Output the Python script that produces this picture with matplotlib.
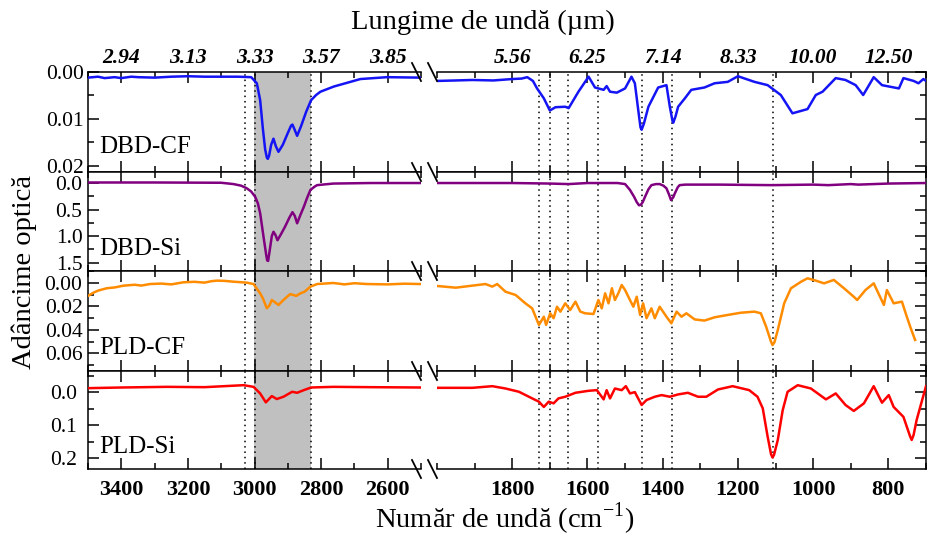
###############################################################################
### IR optical depth spectra on a broken wavenumber axis
###############################################################################

#------------------------------------------------------------------------------
### Import packages
import matplotlib.pyplot as plt
from matplotlib.lines import Line2D
from matplotlib.ticker import MultipleLocator, FormatStrFormatter


#------------------------------------------------------------------------------
### Data (wavenumber in cm-1, optical depth)

# DBD-CF
dbd_cf_wn_l = [3500, 3470, 3450, 3420, 3400, 3370, 3350, 3300, 3250, 3200, 3150, 3100, 3050, 3010,
               2993, 2983, 2975, 2968, 2963, 2960, 2956, 2950, 2943, 2936, 2928, 2915, 2900, 2890,
               2886, 2880, 2872, 2860, 2845, 2830, 2815, 2802, 2762, 2712, 2682, 2602, 2501]
dbd_cf_l = [0.0012, 0.0010, 0.0013, 0.0011, 0.0013, 0.0010, 0.0011, 0.0012, 0.0010, 0.0009, 0.0010,
            0.0010, 0.0010, 0.0011, 0.0024, 0.0060, 0.0120, 0.0165, 0.0182, 0.0185, 0.0178, 0.0155,
            0.0142, 0.0158, 0.0170, 0.0155, 0.0130, 0.0114, 0.0112, 0.0122, 0.0136, 0.0115, 0.0085,
            0.0060, 0.0049, 0.0042, 0.0031, 0.0021, 0.0015, 0.0011, 0.0012]
dbd_cf_wn_r = [1998, 1950, 1906, 1850, 1800, 1775, 1760, 1745, 1734, 1716, 1700, 1685, 1659, 1650,
               1624, 1597, 1580, 1557, 1549, 1540, 1522, 1500, 1483, 1474, 1465, 1459, 1456, 1450,
               1438, 1412, 1390, 1381, 1374, 1372, 1366, 1359, 1341, 1324, 1289, 1262, 1227, 1200,
               1156, 1121, 1086, 1055, 1015, 993, 975, 940, 914, 887, 867, 839, 817, 772, 760, 733,
               720, 707, 700]
dbd_cf_r = [0.0019, 0.0018, 0.0017, 0.0018, 0.0015, 0.0014, 0.0011, 0.0019, 0.0035, 0.0056, 0.0082,
            0.0075, 0.0074, 0.0077, 0.0042, 0.0010, 0.0033, 0.0038, 0.0030, 0.0042, 0.0044, 0.0035,
            0.0010, 0.0024, 0.0081, 0.0118, 0.0123, 0.0110, 0.0074, 0.0033, 0.0028, 0.0074, 0.0104,
            0.0108, 0.0095, 0.0074, 0.0056, 0.0038, 0.0033, 0.0024, 0.0021, 0.0009, 0.0021, 0.0028,
            0.0049, 0.0088, 0.0079, 0.0049, 0.0042, 0.0013, 0.0017, 0.0028, 0.0049, 0.0011, 0.0028,
            0.0035, 0.0013, 0.0019, 0.0024, 0.0015, 0.0019]

# DBD-Si
dbd_si_wn_l = [3500, 3300, 3100, 3063, 3040, 3023, 3010, 2998, 2990, 2983, 2973, 2965, 2962, 2959,
               2955, 2948, 2943, 2937, 2931, 2920, 2908, 2895, 2886, 2879, 2872, 2862, 2852, 2842,
               2832, 2820, 2812, 2763, 2650, 2501]
dbd_si_l = [-0.01, -0.01, -0.005, 0.02, 0.05, 0.10, 0.16, 0.26, 0.38, 0.57, 1.01, 1.35, 1.46, 1.47,
            1.30, 1.00, 0.92, 0.98, 1.08, 0.96, 0.82, 0.65, 0.55, 0.62, 0.76, 0.60, 0.45, 0.28,
            0.13, 0.07, 0.04, 0.01, 0.00, 0.00]
dbd_si_wn_r = [1998, 1800, 1700, 1650, 1600, 1520, 1500, 1487, 1476, 1469, 1463, 1458, 1453, 1447,
               1438, 1430, 1418, 1408, 1398, 1390, 1383, 1378, 1372, 1368, 1360, 1355, 1340, 1250,
               1110, 1000, 960, 900, 880, 800, 700]
dbd_si_r = [0.00, 0.00, 0.01, 0.02, 0.00, 0.00, 0.02, 0.13, 0.26, 0.36, 0.42, 0.41, 0.36, 0.26,
            0.12, 0.04, 0.02, 0.02, 0.05, 0.10, 0.22, 0.32, 0.27, 0.20, 0.08, 0.04, 0.03, 0.03,
            0.04, 0.03, 0.04, 0.02, 0.03, 0.01, 0.00]

# PLD-CF
pld_cf_wn_l = [3500, 3484, 3470, 3444, 3420, 3394, 3360, 3340, 3314, 3280, 3250, 3213, 3180, 3150,
               3130, 3113, 3090, 3063, 3023, 3003, 2983, 2975, 2963, 2955, 2948, 2938, 2928, 2915,
               2902, 2893, 2883, 2875, 2862, 2850, 2832, 2812, 2790, 2763, 2730, 2700, 2662, 2600,
               2550, 2501]
pld_cf_l = [0.0110, 0.0083, 0.0065, 0.0045, 0.0038, 0.0023, 0.0015, 0.0022, 0.0009, 0.0005, 0.0012,
            -0.0006, -0.0010, -0.0003, -0.0015, -0.0020, -0.0018, -0.0011, -0.0003, 0.0009, 0.0088,
            0.0130, 0.0215, 0.0190, 0.0145, 0.0165, 0.0187, 0.0150, 0.0117, 0.0095, 0.0102, 0.0110,
            0.0088, 0.0075, 0.0031, 0.0009, 0.0005, 0.0000, 0.0012, 0.0002, 0.0009, 0.0012, 0.0006,
            0.0009]
pld_cf_wn_r = [1998, 1950, 1915, 1871, 1853, 1840, 1818, 1791, 1765, 1747, 1729, 1716, 1710, 1699,
               1690, 1681, 1672, 1659, 1646, 1632, 1619, 1606, 1584, 1571, 1562, 1553, 1544, 1535,
               1527, 1518, 1509, 1500, 1487, 1478, 1469, 1460, 1452, 1443, 1430, 1421, 1408, 1390,
               1377, 1363, 1350, 1337, 1315, 1289, 1262, 1227, 1192, 1156, 1139, 1125, 1112, 1108,
               1103, 1094, 1077, 1059, 1032, 1015, 993, 971, 945, 918, 892, 883, 861, 839, 812, 804,
               786, 764, 751, 742, 729]
pld_cf_r = [0.0026, 0.0040, 0.0026, 0.0009, 0.0031, 0.0009, 0.0074, 0.0102, 0.0173, 0.0216, 0.0357,
            0.0287, 0.0357, 0.0258, 0.0300, 0.0202, 0.0244, 0.0173, 0.0230, 0.0159, 0.0244, 0.0258,
            0.0264, 0.0145, 0.0216, 0.0088, 0.0173, 0.0045, 0.0145, 0.0088, 0.0017, 0.0060, 0.0145,
            0.0202, 0.0117, 0.0272, 0.0173, 0.0300, 0.0216, 0.0300, 0.0202, 0.0287, 0.0343, 0.0244,
            0.0287, 0.0258, 0.0310, 0.0320, 0.0292, 0.0272, 0.0253, 0.0244, 0.0258, 0.0372, 0.0500,
            0.0528, 0.0505, 0.0400, 0.0173, 0.0045, -0.0011, -0.0040, -0.0020, 0.0003, -0.0026,
            0.0045, 0.0117, 0.0145, 0.0060, 0.0003, 0.0187, 0.0060, 0.0173, 0.0159, 0.0287, 0.0372,
            0.0485]

# PLD-Si
pld_si_wn_l = [3500, 3400, 3263, 3150, 3033, 3003, 2983, 2966, 2948, 2933, 2913, 2887, 2872, 2852,
               2830, 2763, 2650, 2501]
pld_si_l = [-0.012, -0.014, -0.016, -0.015, -0.021, -0.016, 0.004, 0.031, 0.012, 0.021, 0.014,
            -0.001, 0.002, -0.006, -0.014, -0.016, -0.015, -0.014]
pld_si_wn_r = [1998, 1906, 1853, 1818, 1782, 1747, 1729, 1716, 1703, 1690, 1677, 1659, 1632, 1597,
               1575, 1557, 1549, 1540, 1527, 1509, 1498, 1487, 1474, 1456, 1443, 1421, 1403, 1381,
               1359, 1333, 1306, 1284, 1253, 1214, 1170, 1148, 1134, 1121, 1112, 1108, 1104, 1094,
               1081, 1068, 1041, 1006, 966, 940, 914, 892, 865, 839, 817, 799, 786, 760, 742, 738,
               733, 725, 700]
pld_si_r = [-0.013, -0.013, -0.018, -0.011, -0.001, 0.019, 0.029, 0.045, 0.029, 0.034, 0.019, 0.014,
            0.002, -0.004, -0.006, 0.022, -0.006, 0.019, -0.011, -0.006, -0.018, 0.004, 0.000,
            0.039, 0.024, 0.014, 0.009, 0.014, 0.007, 0.002, 0.014, 0.014, -0.008, -0.018, -0.006,
            0.014, 0.049, 0.135, 0.188, 0.198, 0.190, 0.145, 0.055, -0.001, -0.021, -0.011, 0.022,
            0.004, 0.039, 0.057, 0.034, -0.018, 0.032, 0.009, 0.045, 0.075, 0.135, 0.145, 0.130,
            0.085, -0.018]

# Tick positions and labels
ticks_l = [3400, 3200, 3000, 2800, 2600]
ticks_r = [1800, 1600, 1400, 1200, 1000, 800]
wn_labels_l = ['3400', '3200', '3000', '2800', '2600']
wn_labels_r = ['1800', '1600', '1400', '1200', '1000', '800']
wl_labels_l = ['2.94', '3.13', '3.33', '3.57', '3.85']
wl_labels_r = ['5.56', '6.25', '7.14', '8.33', '10.00', '12.50']

# Marked bands
band_lines_l = [3030, 3000, 2830]
band_lines_r = [1730, 1700, 1653, 1572, 1456, 1375, 1108]
shade_band = (2830, 3000)


#------------------------------------------------------------------------------
### Set variables

FIG_W = 927
FIG_H = 537
LEFT_X = (88, 421)
RIGHT_X = (437, 926)
PANEL_Y = [72, 172, 271, 371, 469]
LABEL_X = 99

plt.rcParams['font.family'] = ['Liberation Serif', 'DejaVu Serif']
plt.rcParams['mathtext.fontset'] = 'custom'
plt.rcParams['mathtext.rm'] = 'Liberation Serif'

# name, colour, data, y limits, major, minor, format, label y
panels = [
    ('DBD-CF', '#1414f5', dbd_cf_wn_l, dbd_cf_l, dbd_cf_wn_r, dbd_cf_r,
     (0.0213, 0.0), 0.01, 0.005, '%.2f', 147),
    ('DBD-Si', '#800080', dbd_si_wn_l, dbd_si_l, dbd_si_wn_r, dbd_si_r,
     (1.66, -0.208), 0.5, 0.25, '%.1f', 249),
    ('PLD-CF', '#ff8c00', pld_cf_wn_l, pld_cf_l, pld_cf_wn_r, pld_cf_r,
     (0.0749, -0.0102), 0.02, 0.01, '%.2f', 348),
    ('PLD-Si', '#ff0000', pld_si_wn_l, pld_si_l, pld_si_wn_r, pld_si_r,
     (0.233, -0.064), 0.1, 0.05, '%.1f', 447),
]


#------------------------------------------------------------------------------
### Functions

def px_box(x0, x1, y0, y1):
    return [x0 / FIG_W, 1 - y1 / FIG_H, (x1 - x0) / FIG_W, (y1 - y0) / FIG_H]


def style_axis(ax, side):
    ax.tick_params(which='both', direction='in', top=True, bottom=True, width=1.1,
                   labelsize=15.5, labelbottom=False, pad=4)
    ax.tick_params(which='major', length=8)
    ax.tick_params(which='minor', length=4)
    ax.xaxis.set_minor_locator(MultipleLocator(100))
    for s in ax.spines.values():
        s.set_linewidth(1.1)
    if side == 'left':
        ax.spines['right'].set_visible(False)
        ax.tick_params(which='both', left=True, right=False)
    else:
        ax.spines['left'].set_visible(False)
        ax.tick_params(which='both', left=False, right=True, labelleft=False)


#------------------------------------------------------------------------------
### Build figure

fig = plt.figure(figsize=(FIG_W / 100, FIG_H / 100), dpi=100)

for i, (name, col, wl, vl, wr, vr, ylim, major, minor, fmt, label_y) in enumerate(panels):
    y0, y1 = PANEL_Y[i], PANEL_Y[i + 1]
    ax_l = fig.add_axes(px_box(*LEFT_X, y0, y1))
    ax_r = fig.add_axes(px_box(*RIGHT_X, y0, y1))

    for ax, side, wn, val, ticks, lines in [(ax_l, 'left', wl, vl, ticks_l, band_lines_l),
                                           (ax_r, 'right', wr, vr, ticks_r, band_lines_r)]:
        style_axis(ax, side)
        ax.plot(wn, val, color=col, lw=1.8, zorder=3, solid_joinstyle='round')
        for x in lines:
            ax.axvline(x, color='black', ls=(0, (1, 2.5)), lw=1.1, zorder=2)
        ax.set_ylim(ylim)
        ax.yaxis.set_major_locator(MultipleLocator(major))
        ax.yaxis.set_minor_locator(MultipleLocator(minor))
        ax.yaxis.set_major_formatter(FormatStrFormatter(fmt))
        ax.set_xticks(ticks)

    ax_l.axvspan(*shade_band, color='#c0c0c0', lw=0, zorder=1)
    ax_l.set_xlim(3500, 2500)
    ax_r.set_xlim(2000, 700)

    # Wavelength labels on top, wavenumber labels at the bottom
    if i == 0:
        for ax, ticks, labs in [(ax_l, ticks_l, wl_labels_l), (ax_r, ticks_r, wl_labels_r)]:
            ax.set_xticks(ticks, labs, fontweight='bold', style='italic', fontsize=15.5)
            ax.tick_params(labeltop=True, pad=3)
    if i == len(panels) - 1:
        for ax, ticks, labs in [(ax_l, ticks_l, wn_labels_l), (ax_r, ticks_r, wn_labels_r)]:
            ax.set_xticks(ticks, labs, fontweight='bold', fontsize=16)
            ax.tick_params(labelbottom=True, pad=8)

    fig.text(LABEL_X / FIG_W, 1 - label_y / FIG_H, name, fontsize=18, va='center')

# Axis break marks
for y in PANEL_Y:
    for x in (412, 428):
        fig.add_artist(Line2D([x / FIG_W, (x + 9) / FIG_W],
                              [1 - (y - 9) / FIG_H, 1 - (y + 9) / FIG_H],
                              transform=fig.transFigure, color='black', lw=1.3))

# Axis titles
fig.text(483 / FIG_W, 1 - 22 / FIG_H, 'Lungime de undă (µm)', fontsize=20.5,
         ha='center', va='center')
fig.text(505 / FIG_W, 1 - 519 / FIG_H, 'Număr de undă (cm$^{-1}$)', fontsize=20.5,
         ha='center', va='center')
fig.text(24 / FIG_W, 1 - 272 / FIG_H, 'Adâncime optică', fontsize=20.5,
         ha='center', va='center', rotation=90)

plt.savefig('out.png', dpi=100)
plt.close()
